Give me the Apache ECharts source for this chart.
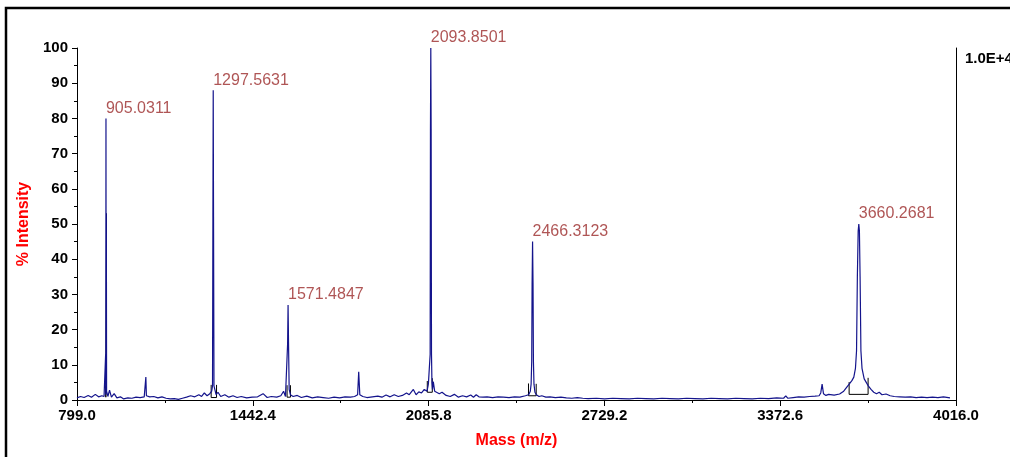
<!DOCTYPE html>
<html>
<head>
<meta charset="utf-8">
<script src="https://cdn.jsdelivr.net/npm/echarts@6/dist/echarts.min.js"></script>
<style>
  html, body { margin: 0; padding: 0; background: #fff; }
  #spectrum { width: 1010px; height: 457px; }
</style>
</head>
<body>
<div id="spectrum"></div>
<script>
// profile spectrum, m/z and % intensity
var profileMz = [
  799, 812, 825, 840, 852, 866, 878, 890, 898, 902, 903.8, 904.4, 905.03, 905.7, 906.4, 907.3, 912, 918, 925, 935,
  945, 958, 970, 985, 1000, 1015, 1030, 1045, 1049, 1051, 1053, 1065, 1080, 1095, 1110, 1125, 1140, 1155, 1170, 1185,
  1200, 1215, 1230, 1245, 1255, 1265, 1275, 1285, 1292, 1295, 1296.4, 1297.56, 1298.7, 1300.3, 1303, 1308, 1315, 1325, 1340, 1355,
  1370, 1385, 1400, 1420, 1440, 1460, 1480, 1495, 1510, 1530, 1545, 1555, 1562, 1567, 1569.8, 1571.48, 1573.2, 1575.5, 1580, 1590,
  1605, 1620, 1640, 1660, 1680, 1700, 1720, 1740, 1760, 1780, 1800, 1815, 1826, 1830, 1834, 1845, 1860, 1880, 1900, 1915,
  1930, 1945, 1960, 1975, 1990, 2005, 2015, 2030, 2040, 2050, 2060, 2070, 2080, 2085, 2089, 2091.5, 2092.6, 2093.85, 2095.1, 2096.4,
  2098, 2100, 2103, 2108, 2115, 2125, 2135, 2150, 2165, 2180, 2195, 2210, 2225, 2240, 2250, 2260, 2270, 2285, 2300, 2320,
  2340, 2360, 2380, 2400, 2420, 2440, 2452, 2458, 2461, 2463.2, 2464.6, 2466.31, 2468, 2469.4, 2471.5, 2475, 2480, 2490, 2500, 2515,
  2530, 2550, 2570, 2590, 2610, 2630, 2650, 2670, 2700, 2730, 2760, 2790, 2820, 2850, 2880, 2910, 2940, 2970, 3000, 3030,
  3060, 3090, 3120, 3150, 3180, 3210, 3240, 3270, 3300, 3330, 3360, 3385, 3393, 3400, 3420, 3440, 3460, 3480, 3500, 3515,
  3521, 3526, 3531, 3540, 3550, 3570, 3590, 3605, 3615, 3625, 3635, 3642, 3648, 3652, 3655, 3658, 3660.27, 3662.5, 3665, 3668, 3672, 3680,
  3685, 3695, 3705, 3715, 3725, 3735, 3745, 3760, 3775, 3790, 3810, 3830, 3850, 3870, 3890, 3910, 3930, 3950, 3970, 3994
];
var profileIntensity = [
  0.6, 1.0, 0.7, 1.3, 0.8, 1.6, 0.9, 1.2, 1.0, 1.5, 13, 1.5, 80, 13, 53, 2.5, 1.0, 2.8, 0.8, 1.8,
  0.6, 0.9, 0.3, 0.6, 0.5, 0.8, 0.7, 0.9, 1.2, 6.5, 1.2, 0.9, 1.0, 0.6, 0.9, 0.5, 0.3, 0.4, 0.2, 0.5,
  0.8, 1.2, 0.9, 1.5, 1.0, 2.0, 1.2, 1.8, 2.5, 4.0, 52, 88, 52, 4.0, 3.5, 1.5, 2.2, 1.0, 1.5, 0.8,
  1.2, 0.7, 1.0, 0.6, 0.8, 0.9, 1.8, 0.7, 1.0, 0.8, 1.2, 2.5, 1.0, 1.5, 16, 27, 16, 3.0, 1.5, 1.0,
  1.3, 0.7, 1.1, 0.6, 0.9, 0.7, 0.5, 0.8, 0.6, 0.9, 0.8, 1.0, 1.5, 8.0, 1.5, 1.0, 0.7, 0.9, 1.1, 0.8,
  1.4, 0.9, 1.5, 1.0, 1.3, 2.0, 1.5, 3.0, 1.5, 2.3, 2.0, 3.0, 2.5, 4.5, 4.0, 13, 77, 100, 77, 13,
  5.0, 3.0, 5.2, 2.5, 2.0, 1.8, 2.2, 1.3, 1.0, 1.6, 0.8, 1.2, 0.9, 1.4, 0.8, 1.5, 0.9, 0.8, 0.9, 0.7,
  0.9, 0.8, 0.7, 0.9, 0.8, 1.2, 1.5, 2.5, 4.5, 11, 33, 45, 33, 11, 4.5, 2.2, 1.5, 1.0, 1.2, 0.8,
  0.9, 0.7, 0.8, 0.6, 0.5, 0.7, 0.5, 0.4, 0.5, 0.3, 0.5, 0.4, 0.3, 0.5, 0.4, 0.3, 0.5, 0.4, 0.3, 0.5,
  0.4, 0.3, 0.5, 0.4, 0.3, 0.5, 0.4, 0.3, 0.5, 0.4, 0.6, 0.5, 1.2, 0.5, 0.7, 0.9, 0.8, 1.0, 1.1, 1.2,
  2.0, 4.5, 1.8, 1.3, 1.6, 1.4, 1.7, 2.5, 3.5, 4.5, 5.5, 6.5, 9.0, 14, 35, 48, 50, 48, 35, 14, 9.0, 6.0,
  5.5, 4.0, 3.0, 2.2, 1.8, 2.2, 1.5, 1.7, 1.2, 1.0, 0.9, 0.8, 0.9, 0.7, 0.8, 0.7, 0.8, 0.7, 0.9, 0.6
];

// labelled peaks
var peakMz = [905.0311, 1297.5631, 1571.4847, 2093.8501, 2466.3123, 3660.2681];
var peakTop = [80, 88, 27, 100, 45, 50];
var peakLabels = ['905.0311', '1297.5631', '1571.4847', '2093.8501', '2466.3123', '3660.2681'];

// black integration brackets under the peaks
var boxStart = [904.5, 1290.0, 1567.8, 2081.0, 2451.4, 3624.9];
var boxEnd = [907.0, 1309.7, 1580.2, 2099.3, 2479.6, 3694.3];
var boxBase = [0.8, 0.7, 0.8, 2.2, 1.2, 1.6];
var boxLeftTop = [4.0, 4.3, 4.2, 5.4, 4.7, 5.1];
var boxRightTop = [53, 4.3, 4.2, 6.2, 4.6, 6.3];

// axis ticks
var xTicks = [799.0, 1442.4, 2085.8, 2729.2, 3372.6, 4016.0];
var xMinorTicks = [1120.7, 1764.1, 2407.5, 3050.9, 3694.3];

var profile = profileMz.map(function (m, i) { return [m, profileIntensity[i]]; });
var peaks = peakMz.map(function (m, i) { return [m, peakTop[i]]; });
var boxes = [];
boxStart.forEach(function (s, i) {
  boxes.push([s, boxLeftTop[i]], [s, boxBase[i]], [boxEnd[i], boxBase[i]], [boxEnd[i], boxRightTop[i]], ['-', '-']);
});

var chart = echarts.init(document.getElementById('spectrum'));
var tickFont = { color: '#000', fontFamily: 'Liberation Sans, Arial, sans-serif', fontWeight: 'bold', fontSize: 15 };

chart.setOption({
  animation: false,
  backgroundColor: '#fff',
  grid: { left: 77, right: 54, top: 48, bottom: 57, containLabel: false, outerBoundsMode: 'none' },
  graphic: [{
    type: 'rect',
    shape: { x: 6, y: 8, width: 1100, height: 500 },
    style: { fill: 'none', stroke: '#000', lineWidth: 2.5 },
    silent: true
  }],
  xAxis: [{
    type: 'value',
    min: 799,
    max: 4016,
    name: 'Mass (m/z)',
    nameLocation: 'middle',
    nameGap: 33,
    nameTextStyle: { color: '#ff0000', fontWeight: 'bold', fontSize: 16, fontFamily: 'Liberation Sans, Arial, sans-serif' },
    axisLine: { lineStyle: { color: '#000', width: 1 } },
    axisTick: { customValues: xTicks, length: 6, lineStyle: { color: '#000' } },
    axisLabel: Object.assign({ customValues: xTicks, margin: 8, formatter: function (v) { return v.toFixed(1); } }, tickFont),
    splitLine: { show: false }
  }, {
    type: 'value',
    min: 799,
    max: 4016,
    position: 'bottom',
    axisLine: { show: false },
    axisTick: { customValues: xMinorTicks, length: 3, lineStyle: { color: '#000' } },
    axisLabel: { show: false },
    splitLine: { show: false }
  }],
  yAxis: [{
    type: 'value',
    min: 0,
    max: 100,
    interval: 10,
    name: '% Intensity',
    nameLocation: 'middle',
    nameGap: 41,
    nameTextStyle: { color: '#ff0000', fontWeight: 'bold', fontSize: 16, fontFamily: 'Liberation Sans, Arial, sans-serif' },
    axisLine: { show: true, lineStyle: { color: '#000', width: 1 } },
    axisTick: { show: true, length: 5, lineStyle: { color: '#000' } },
    minorTick: { show: true, splitNumber: 2, length: 3, lineStyle: { color: '#000' } },
    axisLabel: Object.assign({ margin: 9 }, tickFont),
    splitLine: { show: false }
  }, {
    type: 'value',
    min: 0,
    max: 100,
    interval: 100,
    position: 'right',
    axisLine: { show: true, lineStyle: { color: '#000', width: 1 } },
    axisTick: { show: false },
    axisLabel: Object.assign({
      margin: 9,
      verticalAlign: 'top',
      padding: [3, 0, 0, 0],
      formatter: function (v) { return v === 100 ? '1.0E+4' : ''; }
    }, tickFont),
    splitLine: { show: false }
  }],
  series: [{
    name: 'spectrum',
    type: 'line',
    data: profile,
    showSymbol: false,
    symbol: 'none',
    sampling: false,
    lineStyle: { color: '#14148c', width: 1.2 },
    z: 3
  }, {
    name: 'brackets',
    type: 'line',
    data: boxes,
    showSymbol: false,
    symbol: 'none',
    connectNulls: false,
    lineStyle: { color: '#000', width: 1 },
    z: 2
  }, {
    name: 'labels',
    type: 'scatter',
    data: peaks,
    symbolSize: 0,
    label: {
      show: true,
      position: 'top',
      distance: 2,
      align: 'left',
      offset: [0, 0],
      color: '#9b2a2a',
      fontSize: 16,
      fontFamily: 'Liberation Sans, Arial, sans-serif',
      formatter: function (p) { return peakLabels[p.dataIndex]; }
    },
    z: 4
  }]
});
</script>
</body>
</html>
